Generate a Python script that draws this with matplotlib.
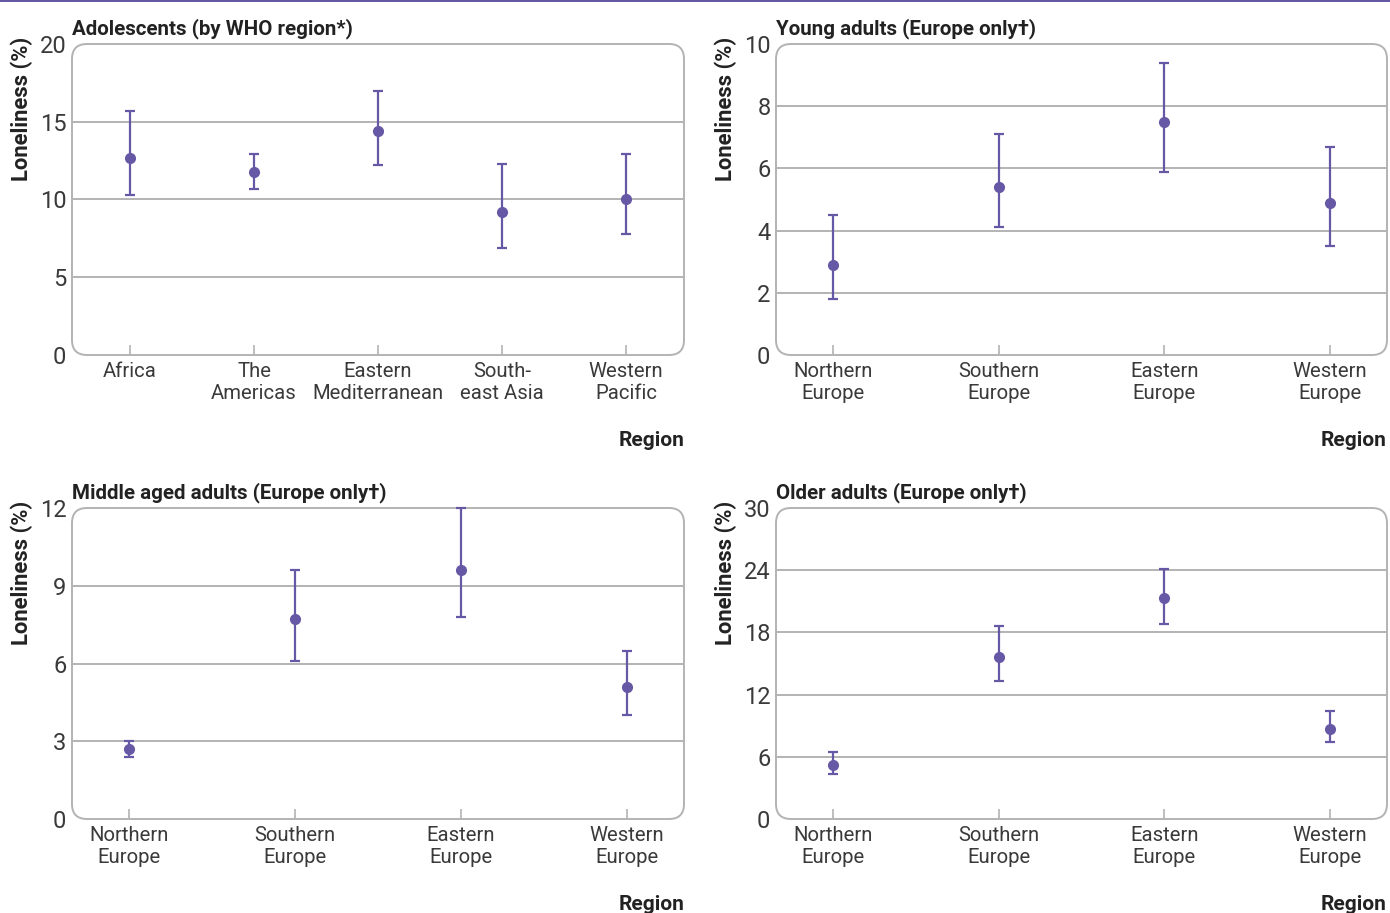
import numpy as np
import matplotlib
matplotlib.use("Agg")
import matplotlib.pyplot as plt
from matplotlib.patches import FancyBboxPatch
from matplotlib.transforms import IdentityTransform

# ----- data -----
adol_cats = ["Africa", "The\nAmericas", "Eastern\nMediterranean", "South-\neast Asia", "Western\nPacific"]
adol_val = [12.7, 11.8, 14.4, 9.2, 10.0]
adol_lo = [10.3, 10.7, 12.2, 6.9, 7.8]
adol_hi = [15.7, 12.9, 17.0, 12.3, 12.9]

eu_cats = ["Northern\nEurope", "Southern\nEurope", "Eastern\nEurope", "Western\nEurope"]

young_val = [2.9, 5.4, 7.5, 4.9]
young_lo = [1.8, 4.1, 5.9, 3.5]
young_hi = [4.5, 7.1, 9.4, 6.7]

middle_val = [2.7, 7.7, 9.6, 5.1]
middle_lo = [2.4, 6.1, 7.8, 4.0]
middle_hi = [3.0, 9.6, 12.0, 6.5]

older_val = [5.2, 15.6, 21.3, 8.7]
older_lo = [4.3, 13.3, 18.8, 7.4]
older_hi = [6.5, 18.6, 24.1, 10.4]

titles = ["Adolescents (by WHO region*)", "Young adults (Europe only\u2020)",
          "Middle aged adults (Europe only\u2020)", "Older adults (Europe only\u2020)"]
yticks = [[0, 5, 10, 15, 20], [0, 2, 4, 6, 8, 10], [0, 3, 6, 9, 12], [0, 6, 12, 18, 24, 30]]

PURPLE = "#6758a6"
GRID = "#b3b3b3"
FONT = ["Roboto", "DejaVu Sans"]

W, H = 1390, 913
fig = plt.figure(figsize=(W / 100, H / 100), dpi=100)
fig.patches.append(plt.Rectangle((0, 1 - 2.5 / H), 1, 2.5 / H, transform=fig.transFigure,
                                  color=PURPLE, lw=0))

# axes boxes in pixels (left, top, right, bottom)
boxes = [(72, 44, 684, 355), (776, 44, 1387, 355), (72, 508, 684, 819), (776, 508, 1387, 819)]
panels = [
    (adol_cats, adol_val, adol_lo, adol_hi),
    (eu_cats, young_val, young_lo, young_hi),
    (eu_cats, middle_val, middle_lo, middle_hi),
    (eu_cats, older_val, older_lo, older_hi),
]

for i, (cats, val, lo, hi) in enumerate(panels):
    l, t, r, b = boxes[i]
    ax = fig.add_axes([l / W, 1 - b / H, (r - l) / W, (b - t) / H])
    x = np.arange(len(cats))
    val = np.array(val)
    err = [val - np.array(lo), np.array(hi) - val]
    ax.errorbar(x, val, yerr=err, fmt="o", color=PURPLE, ms=7, elinewidth=1.6,
                capsize=3.6, capthick=1.6, zorder=3, clip_on=False)
    n = len(cats)
    pad = 0.468 if n == 5 else 0.345
    ax.set_xlim(-pad, n - 1 + pad)
    ax.set_ylim(yticks[i][0], yticks[i][-1])
    ax.set_yticks(yticks[i])
    ax.set_xticks(x)
    ax.set_xticklabels(cats, fontsize=14.6, family=FONT, fontweight="normal", color="#3a3a3a",
                       linespacing=1.22)
    for lab in ax.get_yticklabels():
        lab.set_fontsize(17)
        lab.set_family(FONT)
        lab.set_fontweight("normal")
        lab.set_color("#3a3a3a")
    ax.tick_params(axis="y", length=0, pad=4)
    ax.tick_params(axis="x", direction="in", length=7, width=1.2, color=GRID, pad=5)
    for yv in yticks[i][1:-1]:
        ax.axhline(yv, color=GRID, lw=1.4, zorder=1)
    for s in ax.spines.values():
        s.set_visible(False)
    ax.patch.set_visible(False)
    ax.set_title(titles[i], loc="left", fontsize=14.8, fontweight="bold", family=FONT,
                 color="#222222", pad=7, x=0.0)
    # rounded frame
    frame = FancyBboxPatch((l + 15, H - b + 15), (r - l) - 30, (b - t) - 30,
                           boxstyle="round,pad=15", transform=IdentityTransform(),
                           fc="none", ec=GRID, lw=1.4, zorder=0)
    fig.add_artist(frame)
    fig.text((l - 50) / W, 1 - (t - 7) / H, "Loneliness (%)", rotation=90, ha="center", va="top",
             fontsize=15.8, fontweight="bold", family=FONT, color="#222222")
    fig.text(r / W, 1 - (b + 85) / H, "Region", ha="right", va="center",
             fontsize=15, fontweight="bold", family=FONT, color="#222222")

fig.savefig("out.png", dpi=100)
